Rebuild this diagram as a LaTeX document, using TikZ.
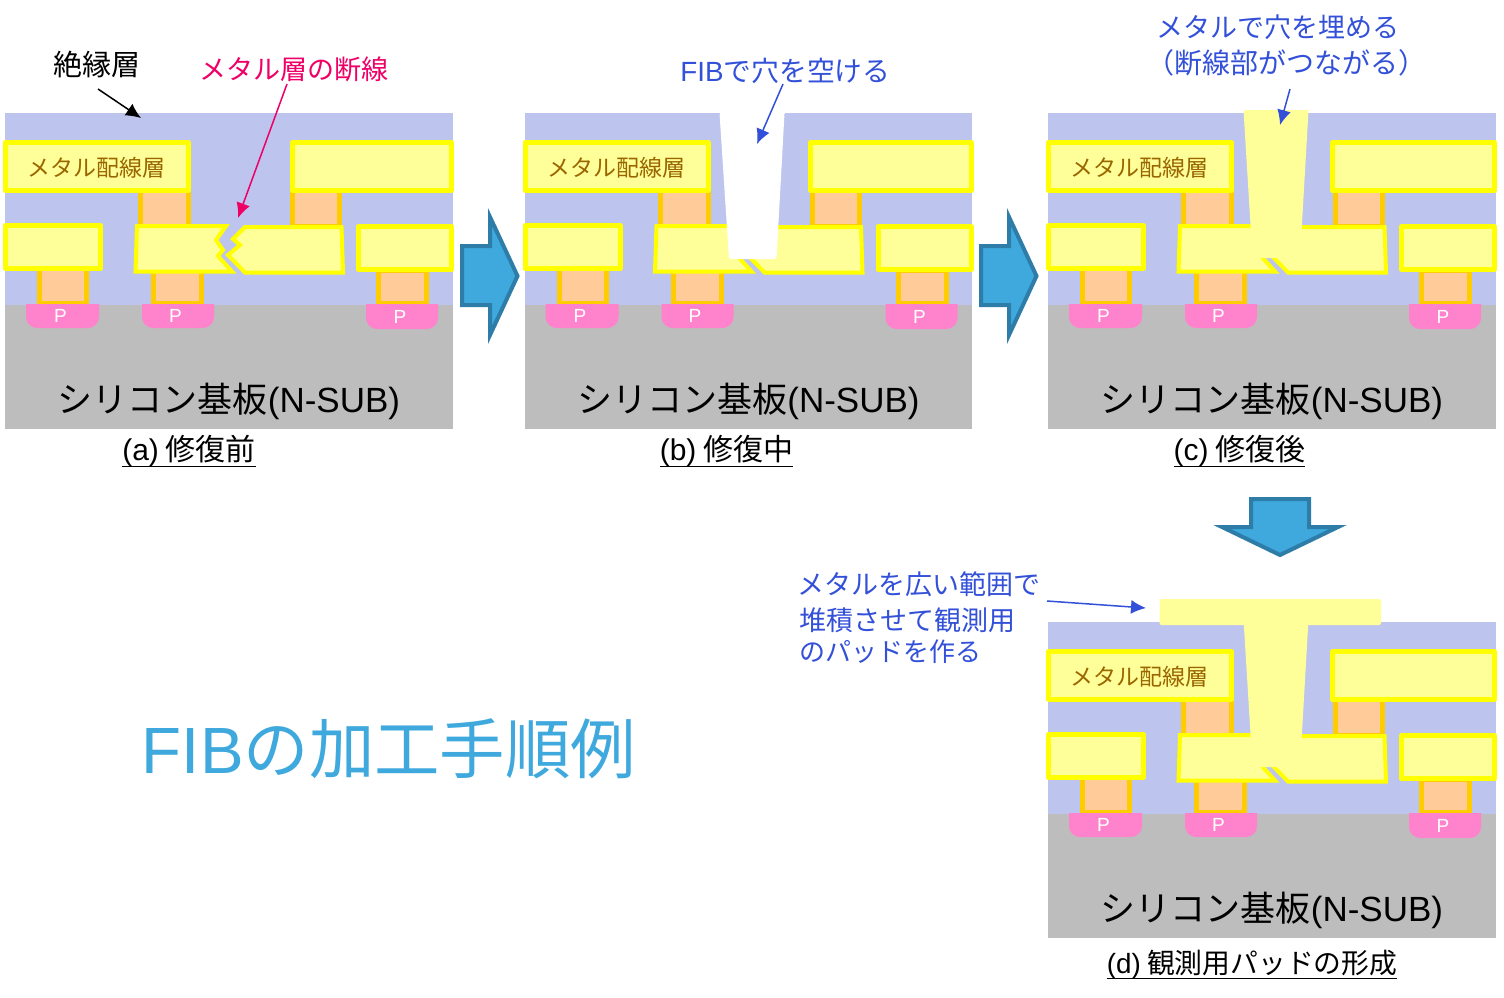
\documentclass[tikz,border=0pt]{standalone}
\usepackage{fontspec}
\setmainfont{Noto Sans CJK JP}
\newfontfamily\arialfont{Liberation Sans}
\usetikzlibrary{arrows.meta}
\definecolor{insulator}{HTML}{BDC4EE}
\definecolor{silicon}{HTML}{BDBDBD}
\definecolor{metalfill}{HTML}{FFFF99}
\definecolor{metalline}{HTML}{FFFF00}
\definecolor{viafill}{HTML}{FFCC99}
\definecolor{vialine}{HTML}{FFCC00}
\definecolor{pwell}{HTML}{FF83CC}
\definecolor{labelbrown}{HTML}{996600}
\definecolor{noteblue}{HTML}{3350D8}
\definecolor{notered}{HTML}{EE0066}
\definecolor{flowfill}{HTML}{3FA9DD}
\definecolor{flowline}{HTML}{2E7CA8}
\tikzset{
  metal/.style={draw=metalline, fill=metalfill, line width=2.5pt, line join=round},
  brokenmetal/.style={metal, line width=2pt, line join=miter},
  via/.style={draw=vialine, fill=viafill, line width=2.5pt},
  plug/.style={fill=metalfill, rounded corners=1pt},
  flowarrow/.style={draw=flowline, fill=flowfill, line width=2pt, line join=miter},
  note/.style={-{Latex[length=7.5pt,width=7pt]}, line width=.75pt},
  substrate/.style={font=\fontsize{17.5}{20}\selectfont, inner sep=0pt},
  caption/.style={font=\fontsize{15}{16}\selectfont, inner sep=0pt, anchor=base},
  notetext/.style={font=\fontsize{13.5}{16}\selectfont, inner sep=0pt},
  ptext/.style={font=\arialfont\fontsize{9.5}{10}\selectfont, text=white, inner sep=0pt},
}
\newcommand{\captext}[1]{\underline{\raisebox{0pt}[0pt][1.3pt]{#1}}}
% one cross section; #1 = suffix for node names, #2 = left edge of the upper right line
\newcommand{\crosssection}[2]{
  \fill[insulator] (5,113) rectangle (452.5,305);
  \fill[silicon] (5,305) rectangle (452.5,429);
  % vias
  \draw[via] (140.5,190) rectangle (188.5,226);
  \draw[via] (292.5,190) rectangle (339.5,226);
  \draw[via] (39.5,268) rectangle (86.5,303);
  \draw[via] (153.5,270) rectangle (201.5,303);
  \draw[via] (378.5,270) rectangle (426.5,303);
  % p regions
  \fill[pwell] (26,304) [rounded corners=5.5pt] -- (26,328) -- (99,328) [sharp corners] -- (99,304) -- cycle;
  \fill[pwell] (142,304) [rounded corners=5.5pt] -- (142,328) -- (214,328) [sharp corners] -- (214,304) -- cycle;
  \fill[pwell] (366,304) [rounded corners=5.5pt] -- (366,329) -- (438,329) [sharp corners] -- (438,304) -- cycle;
  \node[ptext] (p#1a) at (60.5,316){P};
  \node[ptext] (p#1b) at (175.5,316){P};
  \node[ptext] (p#1c) at (400,317){P};
  % metal lines
  \draw[metal] (5.5,142.5) rectangle (188.5,190.5);
  \draw[metal] (#2,142.5) rectangle (451.5,190.5);
  \draw[metal] (5.5,225.5) rectangle (100.5,268.5);
  \draw[metal] (358.5,226.5) rectangle (451.5,269.5);
  \draw[brokenmetal] (137,226) -- (226,226) -- (216,240) -- (223,250) -- (218,256) -- (232,271.5) -- (135.5,271.5) -- cycle;
  \draw[brokenmetal] (245,227) -- (341.5,227) -- (343,272.5) -- (245,272.5) -- (228,255) -- (240,245) -- (233,239) -- cycle;
  \node[substrate] (sub#1) at (229,401.5){シリコン基板{\arialfont (N-SUB)}};
}
\newcommand{\metallabel}[1]{
  \node[inner sep=0pt, text=labelbrown, font=\fontsize{11.5}{14}\selectfont] (label#1) at (96.5,168){メタル配線層};
}
\begin{document}
\begin{tikzpicture}[x=.5pt, y=-.5pt]
\useasboundingbox (0,0) rectangle (1504,997);
% (a) before repair
\begin{scope}
\crosssection{a}{292.5}
\metallabel{a}
\end{scope}
\node[caption] (capa) at (189,460.5){\captext{{\arialfont (a)} 修復前}};
\node[notetext, text=black, font=\fontsize{14.5}{16}\selectfont] (insul) at (97.5,64){絶縁層};
\coordinate (insulend) at (141,118);
\coordinate (insulstart) at (98,89);
\draw[note] (insulstart) -- (insulend);
\node[notetext, text=notered] (breaktext) at (293.5,69.5){メタル層の断線};
\coordinate (breakstart) at (287,84);
\coordinate (breakend) at (238,218);
\draw[note, notered] (breakstart) -- (breakend);
% (b) during repair
\begin{scope}[xshift=259.75pt]
\crosssection{b}{291}
\metallabel{b}
\fill[white, rounded corners=1pt] (200,113) -- (265,113) -- (257,259) -- (209.5,259) -- cycle;
\fill[white] (200,105) rectangle (265,114);
\end{scope}
\node[caption] (capb) at (726.5,460.5){\captext{{\arialfont (b)} 修復中}};
\node[notetext, text=noteblue, font=\fontsize{13.9}{16}\selectfont] (holetext) at (785.5,70.5){{\arialfont FIB}で穴を空ける};
\coordinate (holestart) at (783,84);
\coordinate (holeend) at (757,144);
\draw[note, noteblue] (holestart) -- (holeend);
% (c) after repair
\begin{scope}[xshift=521.5pt]
\crosssection{c}{289.5}
\metallabel{c}
\fill[plug] (200.5,110) -- (265.5,110) -- (257,258) -- (209.5,258) -- cycle;
\fill[metalfill] (209,226) -- (258,226) -- (258,257) -- (214,257) -- cycle;
\end{scope}
\node[caption] (capc) at (1239.5,460.5){\captext{{\arialfont (c)} 修復後}};
\node[notetext, text=noteblue] (filla) at (1277.5,27.5){メタルで穴を埋める};
\node[notetext, text=noteblue, font=\fontsize{14}{16}\selectfont] (fillb) at (1286,62.5){（断線部がつながる）};
\coordinate (fillstart) at (1290,89);
\coordinate (fillend) at (1280,125);
\draw[note, noteblue] (fillstart) -- (fillend);
% (d) pad on top
\begin{scope}[xshift=521.5pt, yshift=-254.5pt]
\crosssection{d}{289.5}
\metallabel{d}
\fill[plug] (116.5,90) rectangle (338,116);
\fill[plug] (200.5,110) -- (265.5,110) -- (257,258) -- (209.5,258) -- cycle;
\fill[metalfill] (209,226) -- (258,226) -- (258,257) -- (214,257) -- cycle;
\end{scope}
\node[caption, font=\fontsize{13.9}{16}\selectfont] (capd) at (1252,973){\captext{{\arialfont (d)} 観測用パッドの形成}};
\node[notetext, text=noteblue, anchor=west] (pada) at (797,584){メタルを広い範囲で};
\node[notetext, text=noteblue, anchor=west] (padb) at (799,620){堆積させて観測用};
\node[notetext, text=noteblue, anchor=west, font=\fontsize{13}{16}\selectfont] (padc) at (799,652){のパッドを作る};
\coordinate (padstart) at (1047,601);
\coordinate (padend) at (1146,608);
\draw[note, noteblue] (padstart) -- (padend);
% flow arrows
\draw[flowarrow] (462,246) -- (490,246) -- (490,217) -- (517.5,276) -- (490,335) -- (490,305) -- (462,305) -- cycle;
\draw[flowarrow] (981,246) -- (1009,246) -- (1009,217) -- (1036.5,276) -- (1009,335) -- (1009,305) -- (981,305) -- cycle;
\draw[flowarrow] (1251,499) -- (1309,499) -- (1309,527) -- (1338,527) -- (1280,555) -- (1222,527) -- (1251,527) -- cycle;
% title
\node[inner sep=0pt, text=flowfill, font=\fontsize{32.7}{38}\selectfont] (title) at (389,749){{\arialfont FIB}の加工手順例};
\end{tikzpicture}
\end{document}
